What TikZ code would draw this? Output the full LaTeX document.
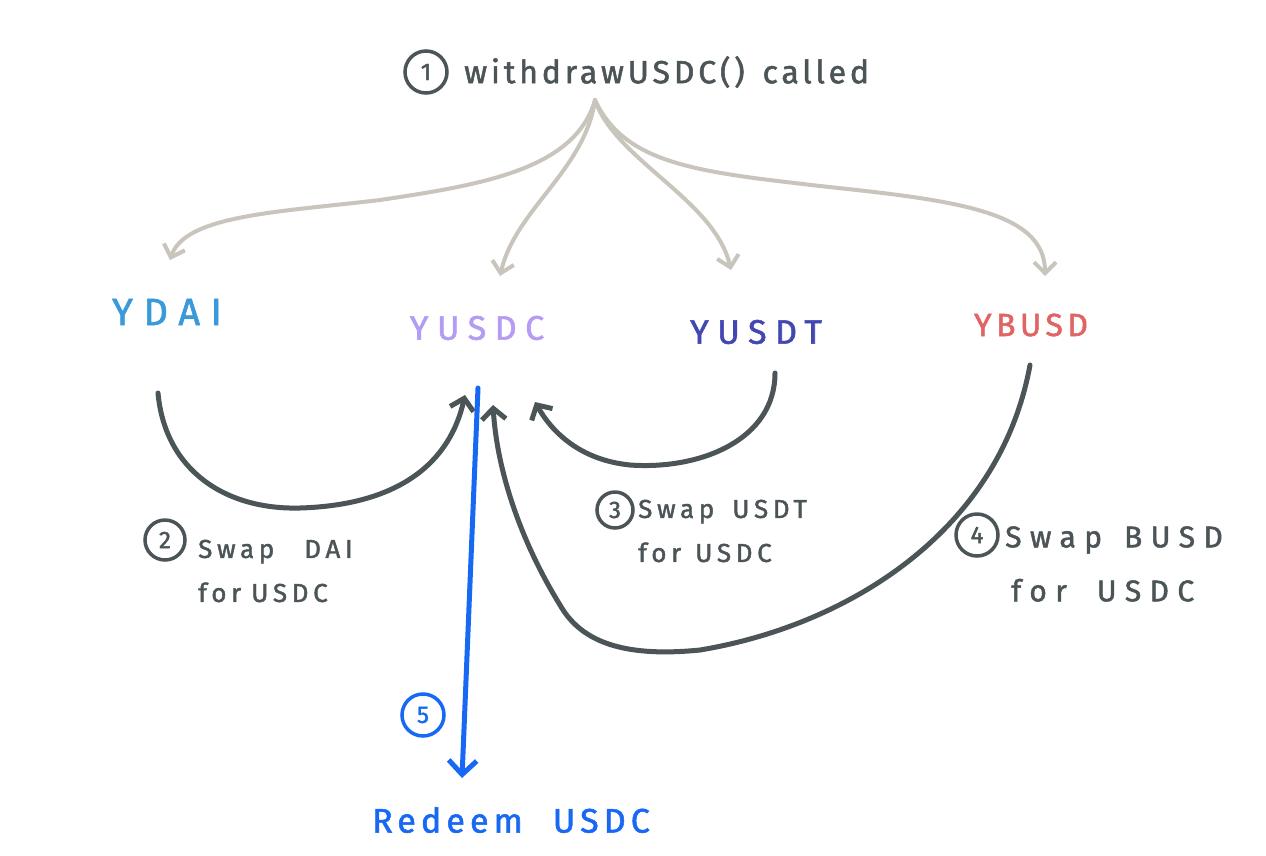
\documentclass[tikz,border=0pt]{standalone}
\usepackage{fontspec}
\setmainfont{Fira Sans}[LetterSpace=12,FakeBold=1.6]
\usetikzlibrary{arrows.meta}
\definecolor{ink}{HTML}{4B5457}
\definecolor{pale}{HTML}{C9C5BD}
\definecolor{daiblue}{HTML}{3A9AD9}
\definecolor{lav}{HTML}{B49CF5}
\definecolor{usdtblue}{HTML}{4348B0}
\definecolor{busdred}{HTML}{E06464}
\definecolor{redeemblue}{HTML}{1769F4}
\tikzset{
  fanline/.style={draw=pale,line width=4pt,line cap=round,line join=round,-{Straight Barb[length=11pt,width=22pt,line width=4pt]}},
  swapline/.style={draw=ink,line width=5pt,line cap=round,line join=round,-{Straight Barb[length=11pt,width=24pt,line width=5pt]}},
  redeemline/.style={draw=redeemblue,line width=5pt,line cap=round,-{Straight Barb[length=14pt,width=28pt,line width=5pt]}},
  numcirc/.style={circle,draw=#1,text=#1,line width=3.5pt,inner sep=0pt,minimum size=40pt,font=\fontsize{24}{24}\selectfont},
  token/.style={font=\fontsize{34}{34}\selectfont\addfontfeatures{LetterSpace=25},text=#1,inner sep=0pt},
  lbl/.style={font=\fontsize{26}{44}\selectfont\addfontfeatures{LetterSpace=18},text=ink,align=left,inner sep=0pt},
}
\begin{document}
\begin{tikzpicture}[x=1pt,y=-1pt]
\useasboundingbox[fill=white] (0,0) rectangle (1266,855);
% title
\node[numcirc=ink,minimum size=42pt] (n1) at (426,72) {1};
\node[anchor=west,font=\fontsize{32}{32}\selectfont,text=ink,inner sep=0pt] (title) at (464,72) {withdrawUSDC()\hspace{18pt}called};
\coordinate (src) at (595,100);
% tokens
\node[token=daiblue,font=\fontsize{38}{38}\selectfont\addfontfeatures{LetterSpace=28}] (ydai) at (167,312) {YDAI};
\node[token=lav] (yusdc) at (477,328) {YUSDC};
\node[token=usdtblue] (yusdt) at (756,332) {YUSDT};
\node[token=busdred,font=\fontsize{32}{32}\selectfont\addfontfeatures{LetterSpace=14}] (ybusd) at (1031,325) {YBUSD};
% fan-out arrow ends
\coordinate (daiIn) at (170,260);
\coordinate (usdcIn) at (500,276);
\coordinate (usdtIn) at (731,270);
\coordinate (busdIn) at (1045,276);
\draw[fanline] (src) .. controls (575,170) and (480,185) .. (380,200) .. controls (280,212) and (185,215) .. (daiIn);
\draw[fanline] (src) .. controls (585,170) and (515,210) .. (usdcIn);
\draw[fanline] (src) .. controls (615,160) and (715,200) .. (usdtIn);
\draw[fanline] (src) .. controls (625,165) and (700,172) .. (820,186) .. controls (950,200) and (1045,210) .. (busdIn);
% swap arrows
\coordinate (daiOut) at (158,393);
\coordinate (usdtOut) at (775,373);
\coordinate (busdOut) at (1030,365);
\coordinate (swapInA) at (465,395);
\coordinate (swapInB) at (535,402);
\coordinate (swapInC) at (493,405);
\draw[swapline] (daiOut) .. controls (165,470) and (225,510) .. (300,508) .. controls (400,505) and (450,462) .. (swapInA);
\draw[swapline] (usdtOut) .. controls (775,440) and (700,470) .. (630,465) .. controls (580,460) and (552,432) .. (swapInB);
\draw[swapline] (busdOut) .. controls (1000,530) and (850,625) .. (700,650) .. controls (620,658) and (580,640) .. (560,605) .. controls (520,540) and (497,470) .. (swapInC);
% redeem
\coordinate (redeemOut) at (478,388);
\coordinate (redeemIn) at (462,778);
\node[font=\fontsize{34}{34}\selectfont\addfontfeatures{LetterSpace=15},text=redeemblue,inner sep=0pt] (redeem) at (511,820) {Redeem\hspace{30pt}USDC};
\draw[redeemline] (redeemOut) -- (redeemIn);
% step labels
\node[numcirc=ink] (n2) at (165,540) {2};
\node[lbl,anchor=west] (l2) at (198,571) {Swap\hspace{30pt}DAI\\for\hspace{10pt}USDC};
\node[numcirc=ink,minimum size=36pt] (n3) at (615,510) {3};
\node[lbl,anchor=west] (l3) at (638,531) {Swap\hspace{18pt}USDT\\for\hspace{14pt}USDC};
\node[numcirc=ink,minimum size=42pt] (n4) at (977,535) {4};
\node[lbl,anchor=west,font=\fontsize{30}{54}\selectfont\addfontfeatures{LetterSpace=28}] (l4) at (1005,564) {Swap\hspace{22pt}BUSD\\\hspace{6pt}for\hspace{30pt}USDC};
\node[numcirc=redeemblue,minimum size=42pt] (n5) at (423,715) {5};
\end{tikzpicture}
\end{document}
